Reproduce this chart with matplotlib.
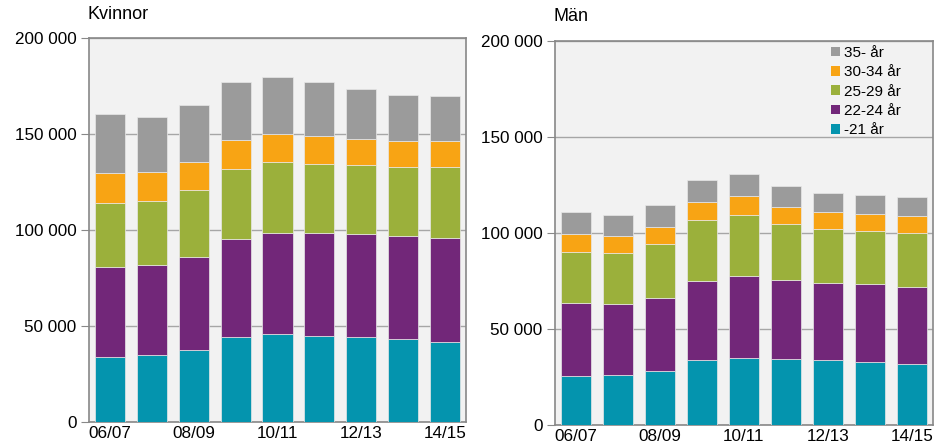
import matplotlib
matplotlib.use('Agg')
import matplotlib.pyplot as plt
from matplotlib.patches import Patch
from matplotlib.ticker import FuncFormatter
import numpy as np

plt.rcParams['font.family'] = ['Liberation Sans', 'DejaVu Sans']

years = ['06/07', '07/08', '08/09', '09/10', '10/11', '11/12', '12/13', '13/14', '14/15']
groups = ['-21 år', '22-24 år', '25-29 år', '30-34 år', '35- år']
colors = ['#0494ae', '#722779', '#9bb03b', '#f8a414', '#9b9b9b']

# kvinnor, tusental
kv_21 = [33.9, 34.9, 37.5, 44.3, 45.8, 44.8, 44.3, 43.2, 41.7]
kv_22_24 = [47.0, 47.0, 48.6, 51.0, 52.6, 53.6, 53.6, 53.7, 54.1]
kv_25_29 = [33.1, 33.2, 34.7, 36.6, 36.8, 36.1, 36.1, 36.1, 36.8]
kv_30_34 = [15.5, 14.9, 14.4, 15.1, 15.0, 14.6, 13.6, 13.5, 13.9]
kv_35 = [30.9, 28.9, 29.7, 29.9, 29.3, 27.8, 25.7, 23.6, 23.1]

# män, tusental
man_21 = [25.5, 26.2, 28.3, 34.0, 35.0, 34.3, 34.0, 32.9, 31.9]
man_22_24 = [37.8, 36.6, 37.6, 41.1, 42.7, 41.3, 40.0, 40.3, 39.8]
man_25_29 = [26.9, 26.7, 28.5, 31.7, 31.6, 29.2, 28.0, 27.8, 28.2]
man_30_34 = [9.4, 9.0, 8.6, 9.2, 9.9, 8.6, 8.8, 8.8, 8.9]
man_35 = [11.2, 10.6, 11.3, 11.3, 11.3, 10.8, 9.8, 9.7, 9.7]

kvinnor = [kv_21, kv_22_24, kv_25_29, kv_30_34, kv_35]
man = [man_21, man_22_24, man_25_29, man_30_34, man_35]

fmt = FuncFormatter(lambda v, p: '0' if v == 0 else f'{int(v):,}'.replace(',', ' '))

fig = plt.figure(figsize=(9.37, 4.48), dpi=100)
ax1 = fig.add_axes([0.095, 0.058, 0.4023, 0.857])
ax2 = fig.add_axes([0.5923, 0.0513, 0.4034, 0.858])


def draw(ax, data, title):
    x = np.arange(len(years))
    bottom = np.zeros(len(years))
    for vals, c in zip(data, colors):
        v = np.array(vals) * 1000
        ax.bar(x, v, 0.72, bottom=bottom, color=c, edgecolor='#e8e8e8', linewidth=0.5, zorder=3)
        bottom += v
    ax.set_facecolor('#f2f2f2')
    ax.set_xlim(-0.5, len(years) - 0.5)
    ax.set_ylim(0, 200000)
    ax.set_yticks([0, 50000, 100000, 150000, 200000])
    ax.yaxis.set_major_formatter(fmt)
    ax.set_xticks(x[::2])
    ax.set_xticklabels(years[::2])
    ax.tick_params(axis='x', length=0, labelsize=12.3, pad=3)
    ax.tick_params(axis='y', length=6, color='#888888', labelsize=12.3, pad=3)
    ax.grid(axis='y', color='#a6a6a6', linewidth=1, zorder=1)
    for s in ax.spines.values():
        s.set_color('#888888')
        s.set_linewidth(1.2)
    ax.text(-0.005, 1.04, title, transform=ax.transAxes, fontsize=13, ha='left', va='bottom')


draw(ax1, kvinnor, 'Kvinnor')
draw(ax2, man, 'Män')

handles = [Patch(facecolor=c, edgecolor='none') for c in colors][::-1]
ax2.legend(handles, groups[::-1], loc='upper left', bbox_to_anchor=(0.705, 1.01),
           frameon=False, fontsize=11, handlelength=0.6, handleheight=0.6,
           handletextpad=0.3, labelspacing=0.35, borderaxespad=0.2)

fig.savefig('out.png', dpi=100)
